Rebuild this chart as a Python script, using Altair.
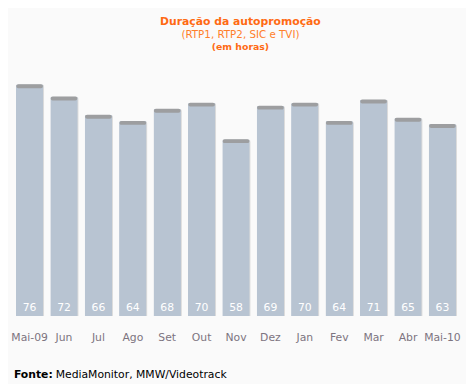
import altair as alt
import pandas as pd

months = ["Mai-09", "Jun", "Jul", "Ago", "Set", "Out", "Nov", "Dez", "Jan", "Fev", "Mar", "Abr", "Mai-10"]
hours = [76, 72, 66, 64, 68, 70, 58, 69, 70, 64, 71, 65, 63]

df = pd.DataFrame({"mes": months, "horas": hours})

W, H = 455, 248
FONT = "DejaVu Sans"

x = alt.X("mes:N", sort=months, title=None,
          scale=alt.Scale(paddingInner=0.2, paddingOuter=0.1),
          axis=alt.Axis(labelAngle=0, ticks=False, domain=False, labelPadding=16,
                        labelColor="#7d7480", labelFont=FONT, labelFontSize=11))
y = alt.Y("horas:Q", title=None, scale=alt.Scale(domain=[0, 80]), axis=None)

base = alt.Chart(df)

shadow = base.mark_bar(color="#dcdcdc", cornerRadiusTopLeft=3, cornerRadiusTopRight=3,
                       xOffset=1).encode(x=x, y=y)
bars = base.mark_bar(color="#b8c4d2", cornerRadiusTopLeft=2, cornerRadiusTopRight=2).encode(x=x, y=y)
caps = base.mark_tick(color="#9a9a9a", thickness=4, size=27, yOffset=2, opacity=0.9,
                      cornerRadius=2).encode(x=x, y=y)
labels = base.mark_text(color="white", font=FONT, fontSize=11, baseline="middle").encode(
    x=x, y=alt.value(H - 8), text="horas:Q")

t1 = alt.Chart(pd.DataFrame({"t": ["Duração da autopromoção"]})).mark_text(
    color="#ff6a13", font=FONT, fontSize=11, fontWeight="bold", baseline="middle").encode(
    x=alt.value(232), y=alt.value(-51), text="t:N")
t2 = alt.Chart(pd.DataFrame({"t": ["(RTP1, RTP2, SIC e TVI)"]})).mark_text(
    color="#ff7f2a", font=FONT, fontSize=10.5, baseline="middle").encode(
    x=alt.value(232), y=alt.value(-38), text="t:N")
t3 = alt.Chart(pd.DataFrame({"t": ["(em horas)"]})).mark_text(
    color="#ff6a13", font=FONT, fontSize=9.5, fontWeight="bold", baseline="middle").encode(
    x=alt.value(232), y=alt.value(-26), text="t:N")

f1 = alt.Chart(pd.DataFrame({"t": ["Fonte:"]})).mark_text(
    color="black", font=FONT, fontSize=11, fontWeight="bold", align="left", baseline="middle").encode(
    x=alt.value(1.5), y=alt.value(308), text="t:N")
f2 = alt.Chart(pd.DataFrame({"t": ["MediaMonitor, MMW/Videotrack"]})).mark_text(
    color="black", font=FONT, fontSize=11, align="left", baseline="middle").encode(
    x=alt.value(44), y=alt.value(308), text="t:N")

chart = alt.layer(shadow, bars, caps, labels, t1, t2, t3, f1, f2).properties(
    width=W, height=H,
    autosize=alt.AutoSizeParams(type="none"),
    padding={"left": 4.5, "top": 62, "right": 6.5, "bottom": 66},
    background="#fafafa",
).configure_view(stroke=None)

chart.save("out.html", embed_options={"renderer": "svg", "actions": False})
